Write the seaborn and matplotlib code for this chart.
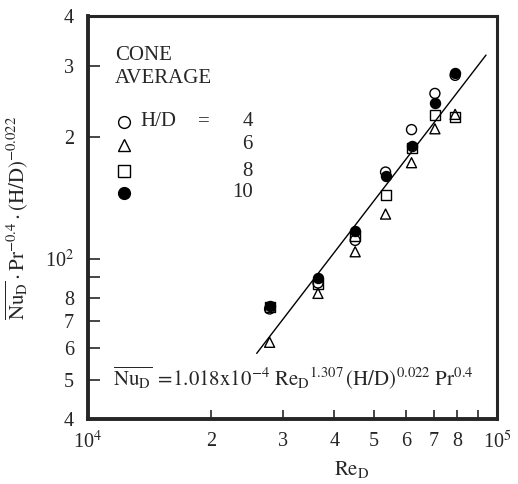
import numpy as np
import pandas as pd
import matplotlib
matplotlib.use('Agg')
import matplotlib.pyplot as plt
import seaborn as sns

# Du lieu doc tu hinh (Re_D va Nu_D*Pr^-0.4*(H/D)^-0.022)
re_d = [27800, 36500, 45000, 53400, 61800, 70500, 79000]
nu_hd4 = [75, 87, 111, 164, 209, 257, 285]
nu_hd6 = [62, 82, 104, 129, 173, 210, 228]
nu_hd8 = [76, 86.5, 114, 144, 188, 227, 225]
nu_hd10 = [76.5, 89.5, 117, 160, 190, 243, 289]

# duong tuong quan (hai dau mut doc tu hinh)
line_re = [25850, 94000]
line_nu = [58.2, 320]

hd_labels = ['4', '6', '8', '10']

sns.set_style('ticks')
plt.rcParams['font.family'] = ['Liberation Serif', 'DejaVu Serif']
plt.rcParams['mathtext.fontset'] = 'stix'

fig = plt.figure(figsize=(5.18, 4.84), dpi=100)
ax = fig.add_axes([88 / 518, 1 - 419 / 484, 409 / 518, 403 / 484])

ax.plot(line_re, line_nu, color='black', lw=1.0, zorder=2)

kieu = [
    (nu_hd4, 'o', 'none'),
    (nu_hd6, '^', 'none'),
    (nu_hd8, 's', 'none'),
    (nu_hd10, 'o', 'black'),
]
for gia_tri, mk, fc in kieu:
    sns.scatterplot(x=re_d, y=gia_tri, marker=mk, s=52, facecolor=fc,
                    edgecolor='black', linewidth=1.0, ax=ax, zorder=3)

ax.set_xscale('log')
ax.set_yscale('log')
ax.set_xlim(1e4, 1e5)
ax.set_ylim(40, 400)

x_ticks = [1e4, 2e4, 3e4, 4e4, 5e4, 6e4, 7e4, 8e4, 9e4, 1e5]
x_lbls = ['10$^4$', '2', '3', '4', '5', '6', '7', '8', '', '10$^5$']
y_ticks = [40, 50, 60, 70, 80, 90, 100, 200, 300, 400]
y_lbls = ['4', '5', '6', '7', '8', '', '10$^2$', '2', '3', '4']
ax.xaxis.set_major_locator(matplotlib.ticker.FixedLocator(x_ticks))
ax.xaxis.set_major_formatter(matplotlib.ticker.FixedFormatter(x_lbls))
ax.xaxis.set_minor_locator(matplotlib.ticker.NullLocator())
ax.yaxis.set_major_locator(matplotlib.ticker.FixedLocator(y_ticks))
ax.yaxis.set_major_formatter(matplotlib.ticker.FixedFormatter(y_lbls))
ax.yaxis.set_minor_locator(matplotlib.ticker.NullLocator())

ax.tick_params(axis='x', direction='in', length=6.5, width=1.2, pad=9,
               labelsize=14.5, top=False)
ax.tick_params(axis='y', direction='in', length=8.5, width=1.2, pad=10,
               labelsize=14.5, right=False)
for ten, s in ax.spines.items():
    s.set_linewidth(2.8 if ten in ('left', 'bottom') else 2.2)

ax.set_xlabel(r'$\mathrm{Re_D}$', fontsize=15)
ax.xaxis.set_label_coords(0.645, -0.1)
ax.set_ylabel(r'$\overline{\mathrm{Nu_D}}\cdot\mathrm{Pr}^{-0.4}\cdot(\mathrm{H/D})^{-0.022}$',
              fontsize=15)
ax.yaxis.set_label_coords(-0.142, 0.5)

# chu thich
tr = ax.transAxes
ax.text(0.066, 0.926, 'CONE', fontsize=15, ha='left', va='top', transform=tr)
ax.text(0.066, 0.869, 'AVERAGE', fontsize=15, ha='left', va='top', transform=tr)
vi_tri_y = [0.737, 0.680, 0.615, 0.561]
for (gia_tri, mk, fc), yy, nhan in zip(kieu, vi_tri_y, hd_labels):
    ax.plot([0.088], [yy], marker=mk, ms=8.5, mfc='white' if fc == 'none' else fc,
            mec='black', mew=1.0, ls='none', transform=tr)
    ax.text(0.403, yy, nhan, fontsize=15, ha='right', va='center', transform=tr)
ax.text(0.127, vi_tri_y[0], 'H/D', fontsize=15, ha='left', va='center', transform=tr)
ax.text(0.268, vi_tri_y[0], '=', fontsize=15, ha='left', va='center', transform=tr)

ax.text(0.06, 0.102,
        r'$\overline{\mathrm{Nu_D}}\;=\!1.018\mathrm{x}10^{-4}\ \mathrm{Re_D}^{1.307}\,(\mathrm{H/D})^{0.022}\ \mathrm{Pr}^{0.4}$',
        fontsize=15, ha='left', va='center', transform=tr)

fig.savefig('out.png', dpi=100)
